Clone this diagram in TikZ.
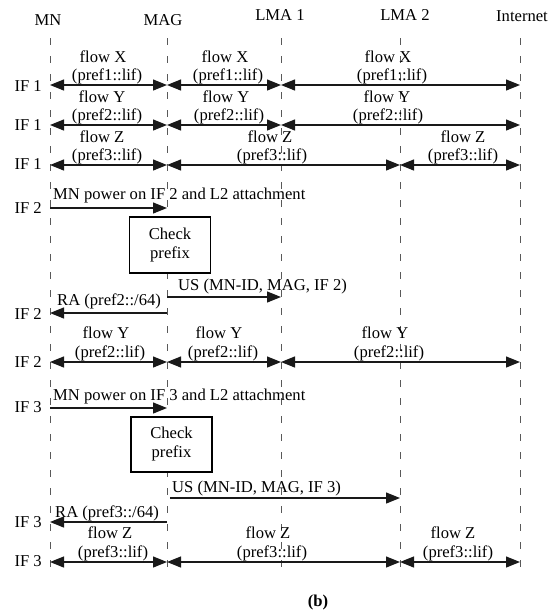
\documentclass[tikz,border=0pt]{standalone}
\usepackage{fontspec}
\setmainfont{Liberation Serif}
\usetikzlibrary{arrows.meta}
\begin{document}
\begin{tikzpicture}[x=1pt,y=-1pt,
  txt/.style={font=\fontsize{16.6}{19}\selectfont, inner sep=0pt, anchor=base},
  iflbl/.style={txt, anchor=base east},
  lefttxt/.style={txt, anchor=base west},
  lifeline/.style={draw=black!65, line width=1pt, dash pattern=on 7pt off 11pt},
  msg/.style={-{Triangle[length=14pt,width=11pt]}, line width=1.2pt, black!90},
  bidir/.style={{Triangle[length=14pt,width=11pt]}-{Triangle[length=14pt,width=11pt]}, line width=1.2pt, black!90},
  checkbox/.style={draw, line width=1.1pt, fill=white, minimum width=81pt, minimum height=56pt, align=center, inner sep=0pt, font=\fontsize{16.6}{19}\selectfont}
]
\useasboundingbox (0,0) rectangle (549,614);
% coordinates on lifelines
\foreach \l/\x in {mn/50, mag/167, la/281, lb/400, in/520}{
  \coordinate (\l-top) at (\x,38);
  \coordinate (\l-bot) at (\x,578);
  \foreach \r/\y in {1/85, 2/125, 3/165, 4/208, 5/297, 6/313, 7/362, 8/408, 9/498, 10/522, 11/562}{
    \coordinate (\l\r) at (\x,\y);
  }
}
% headers
\node[txt] (hmn) at (48,25) {MN};
\node[txt] (hmag) at (163,25) {MAG};
\node[txt] (hla) at (280,20) {LMA 1};
\node[txt] (hlb) at (405,20) {LMA 2};
\node[txt] (hin) at (522,21) {Internet};
% lifelines
\foreach \l in {mn, mag, la, lb, in}{
  \draw[lifeline] (\l-top) -- (\l-bot);
}
% IF labels
\node[iflbl] (if1a) at (42,91) {IF 1};
\node[iflbl] (if1b) at (42,130) {IF 1};
\node[iflbl] (if1c) at (42,169) {IF 1};
\node[iflbl] (if2a) at (42,213) {IF 2};
\node[iflbl] (if2b) at (42,319) {IF 2};
\node[iflbl] (if2c) at (42,367) {IF 2};
\node[iflbl] (if3a) at (42,412) {IF 3};
\node[iflbl] (if3b) at (42,527) {IF 3};
\node[iflbl] (if3c) at (42,566) {IF 3};
% row 1: flow X
\node[txt] (x1a) at (103,62) {flow X};
\node[txt] (x1b) at (107,80) {(pref1::lif)};
\node[txt] (x2a) at (225,62) {flow X};
\node[txt] (x2b) at (228,80) {(pref1::lif)};
\node[txt] (x3a) at (388,62) {flow X};
\node[txt] (x3b) at (392,80) {(pref1::lif)};
\draw[bidir] (mn1) -- (mag1);
\draw[bidir] (mag1) -- (la1);
\draw[bidir] (la1) -- (in1);
% row 2: flow Y
\node[txt] (y1a) at (102,102) {flow Y};
\node[txt] (y1b) at (107,120) {(pref2::lif)};
\node[txt] (y2a) at (226,102) {flow Y};
\node[txt] (y2b) at (229,120) {(pref2::lif)};
\node[txt] (y3a) at (387,102) {flow Y};
\node[txt] (y3b) at (388,120) {(pref2::lif)};
\draw[bidir] (mn2) -- (mag2);
\draw[bidir] (mag2) -- (la2);
\draw[bidir] (la2) -- (in2);
% row 3: flow Z
\node[txt] (z1a) at (102,142) {flow Z};
\node[txt] (z1b) at (107,160) {(pref3::lif)};
\node[txt] (z2a) at (270,142) {flow Z};
\node[txt] (z2b) at (272,160) {(pref3::lif)};
\node[txt] (z3a) at (463,142) {flow Z};
\node[txt] (z3b) at (463,160) {(pref3::lif)};
\draw[bidir] (mn3) -- (mag3);
\draw[bidir] (mag3) -- (lb3);
\draw[bidir] (lb3) -- (in3);
% IF 2 attachment
\node[lefttxt] (p2) at (53,199) {MN power on IF 2 and L2 attachment};
\draw[msg] (mn4) -- (mag4);
\node[checkbox] (c1) at (170,245) {Check\\prefix};
\node[lefttxt] (us2) at (178,290) {US (MN-ID, MAG, IF 2)};
\draw[msg] (mag5) -- (la5);
\node[lefttxt] (ra2) at (57,305) {RA (pref2::/64)};
\draw[msg] (mag6) -- (mn6);
% flow Y on IF 2
\node[txt] (y4a) at (106,338) {flow Y};
\node[txt] (y4b) at (110,357) {(pref2::lif)};
\node[txt] (y5a) at (219,338) {flow Y};
\node[txt] (y5b) at (223,357) {(pref2::lif)};
\node[txt] (y6a) at (385,338) {flow Y};
\node[txt] (y6b) at (389,357) {(pref2::lif)};
\draw[bidir] (mn7) -- (mag7);
\draw[bidir] (mag7) -- (la7);
\draw[bidir] (la7) -- (in7);
% IF 3 attachment
\node[lefttxt] (p3) at (53,400) {MN power on IF 3 and L2 attachment};
\draw[msg] (mn8) -- (mag8);
\node[checkbox, minimum height=55pt] (c2) at (171.5,444.5) {Check\\prefix};
\node[lefttxt] (us3) at (172,492) {US (MN-ID, MAG, IF 3)};
\draw[msg] ([xshift=3pt]mag9) -- (lb9);
\node[lefttxt] (ra3) at (55,517) {RA (pref3::/64)};
\draw[msg] (mag10) -- (mn10);
% flow Z on IF 3
\node[txt] (z4a) at (110,538) {flow Z};
\node[txt] (z4b) at (113,557) {(pref3::lif)};
\node[txt] (z5a) at (268,538) {flow Z};
\node[txt] (z5b) at (272,557) {(pref3::lif)};
\node[txt] (z6a) at (453,538) {flow Z};
\node[txt] (z6b) at (458,557) {(pref3::lif)};
\draw[bidir] (mn11) -- (mag11);
\draw[bidir] (mag11) -- (lb11);
\draw[bidir] (lb11) -- (in11);
% caption
\node[txt, font=\fontsize{16.6}{19}\selectfont\bfseries] (cap) at (318,606) {(b)};
\end{tikzpicture}
\end{document}
